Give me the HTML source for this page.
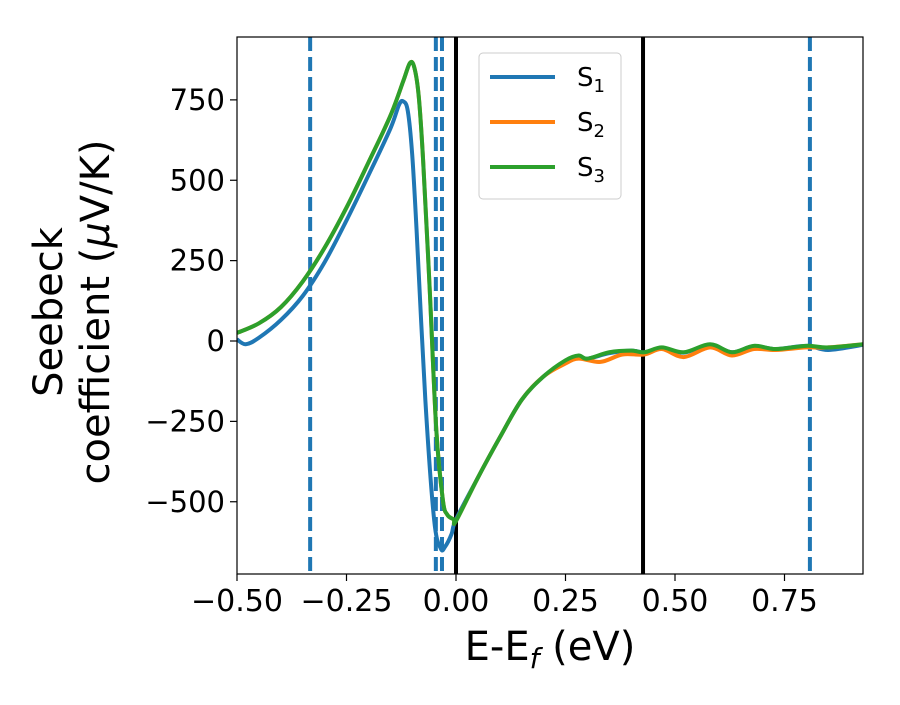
<!DOCTYPE html>
<html><head><meta charset="utf-8"><style>
body{margin:0;background:#fff;}
svg{font-family:"DejaVu Sans","Liberation Sans",sans-serif;}
</style></head><body>
<svg width="900" height="700">
<g id="plot"></g>
</svg>
<script>
const xTicks=[-0.5,-0.25,0,0.25,0.5,0.75];
const xTickLabels=["−0.50","−0.25","0.00","0.25","0.50","0.75"];
const yTicks=[-500,-250,0,250,500,750];
const yTickLabels=["−500","−250","0","250","500","750"];
const e1=[-0.5,-0.48,-0.45,-0.4,-0.35,-0.3,-0.25,-0.2,-0.15,-0.13,-0.12,-0.11,-0.1,-0.09,-0.07,-0.05,-0.035,-0.025,-0.01,0,0.05,0.1,0.15,0.2,0.25,0.28,0.3,0.35,0.4,0.43,0.47,0.52,0.58,0.63,0.68,0.73,0.8,0.85,0.93];
const s1=[5,-10,10,65,140,245,375,515,660,735,745,715,580,345,-183,-555,-645,-640,-600,-555,-425,-300,-183,-110,-65,-47,-55,-38,-30,-35,-22,-36,-12,-35,-16,-25,-15,-28,-12];
const e2=[-0.5,-0.45,-0.4,-0.35,-0.3,-0.25,-0.2,-0.15,-0.12,-0.105,-0.095,-0.085,-0.075,-0.06,-0.045,-0.03,-0.02,-0.005,0,0.05,0.1,0.15,0.2,0.25,0.28,0.33,0.38,0.43,0.47,0.52,0.58,0.63,0.68,0.73,0.8,0.85,0.93];
const s2=[25,55,105,185,290,415,555,700,810,865,850,760,560,160,-276,-494,-540,-555,-560,-425,-300,-183,-110,-70,-55,-65,-42,-42,-25,-50,-20,-45,-25,-28,-20,-20,-10];
const e3=[-0.5,-0.45,-0.4,-0.35,-0.3,-0.25,-0.2,-0.15,-0.12,-0.105,-0.095,-0.085,-0.075,-0.06,-0.045,-0.03,-0.02,-0.005,0,0.05,0.1,0.15,0.2,0.25,0.28,0.3,0.35,0.4,0.43,0.47,0.52,0.58,0.63,0.68,0.73,0.8,0.85,0.93];
const s3=[25,55,105,185,290,415,555,700,810,865,850,760,560,160,-276,-494,-540,-555,-560,-425,-300,-183,-110,-60,-45,-55,-35,-30,-35,-20,-35,-10,-35,-15,-25,-15,-20,-10];
const dashedLines=[-0.333,-0.046,-0.032,0.808];
const solidLines=[0,0.427];
const X=e=>456+e*438, Y=s=>341-s*0.3215;
const ns="http://www.w3.org/2000/svg", g=document.getElementById('plot');
function mk(t,a,txt){const el=document.createElementNS(ns,t);for(const k in a)el.setAttribute(k,a[k]);if(txt!==undefined)el.textContent=txt;g.appendChild(el);return el;}
const cp=mk('clipPath',{id:'clip'});
const cr=document.createElementNS(ns,'rect');cp.appendChild(cr);
cr.setAttribute('x',237);cr.setAttribute('y',37);cr.setAttribute('width',626);cr.setAttribute('height',537);
function path(es,ss){const p=es.map((e,i)=>[X(e),Y(ss[i])]);let d=`M${p[0][0]},${p[0][1]}`;
for(let i=0;i<p.length-1;i++){const a=p[Math.max(0,i-1)],b=p[i],c=p[i+1],n=p[Math.min(p.length-1,i+2)];
d+=` C${b[0]+(c[0]-a[0])/6},${b[1]+(c[1]-a[1])/6} ${c[0]-(n[0]-b[0])/6},${c[1]-(n[1]-b[1])/6} ${c[0]},${c[1]}`;}return d;}
dashedLines.forEach(v=>{const l=mk('line',{x1:X(v),x2:X(v),y1:37,y2:574,stroke:'#1f77b4','stroke-width':4,'stroke-dasharray':'14,6'});

});
solidLines.forEach(v=>{const l=mk('line',{x1:X(v),x2:X(v),y1:37,y2:574,stroke:'#000','stroke-width':4});

});
[[e1,s1,'#1f77b4','series-s1'],[e2,s2,'#ff7f0e','series-s2'],[e3,s3,'#2ca02c','series-s3']].forEach(([e,s,c,n])=>{
const p=mk('path',{d:path(e,s),fill:'none',stroke:c,'stroke-width':4,'clip-path':'url(#clip)'});

});
mk('rect',{x:237,y:37,width:626,height:537,fill:'none',stroke:'#000','stroke-width':1.2});
xTicks.forEach((v,i)=>{mk('line',{x1:X(v),x2:X(v),y1:574,y2:581,stroke:'#000','stroke-width':1.2});
const t=mk('text',{x:X(v),y:611,'text-anchor':'middle','font-size':30},xTickLabels[i]);

});
yTicks.forEach((v,i)=>{mk('line',{x1:230,x2:237,y1:Y(v),y2:Y(v),stroke:'#000','stroke-width':1.2});
const t=mk('text',{x:225,y:Y(v)+10,'text-anchor':'end','font-size':29},yTickLabels[i]);

});
</script>
<svg width="900" height="700" style="position:absolute;left:0;top:0">
<text x="550" y="660" text-anchor="middle" font-size="40" font-family="DejaVu Sans,sans-serif">E-E<tspan font-style="italic" font-size="28" dy="8">f</tspan><tspan dy="-8"> (eV)</tspan></text>
<g transform="translate(62,312) rotate(-90)" font-family="DejaVu Sans,sans-serif" font-size="40">
<text x="0" y="0" text-anchor="middle">Seebeck</text>
<text x="0" y="47" text-anchor="middle">coefficient  (<tspan font-style="italic">μ</tspan>V/K)</text>
</g>
<g font-family="DejaVu Sans,sans-serif" font-size="26">
<rect x="479" y="53" width="142" height="146" rx="4" fill="#fff" fill-opacity="0.8" stroke="#ccc"/>
<line x1="490" x2="555" y1="77" y2="77" stroke="#1f77b4" stroke-width="4"/>
<text x="577" y="86">S<tspan font-size="18" dy="6">1</tspan></text>
<line x1="490" x2="555" y1="122" y2="122" stroke="#ff7f0e" stroke-width="4"/>
<text x="577" y="131">S<tspan font-size="18" dy="6">2</tspan></text>
<line x1="490" x2="555" y1="167" y2="167" stroke="#2ca02c" stroke-width="4"/>
<text x="577" y="176">S<tspan font-size="18" dy="6">3</tspan></text>
</g>
</svg>
</body></html>
